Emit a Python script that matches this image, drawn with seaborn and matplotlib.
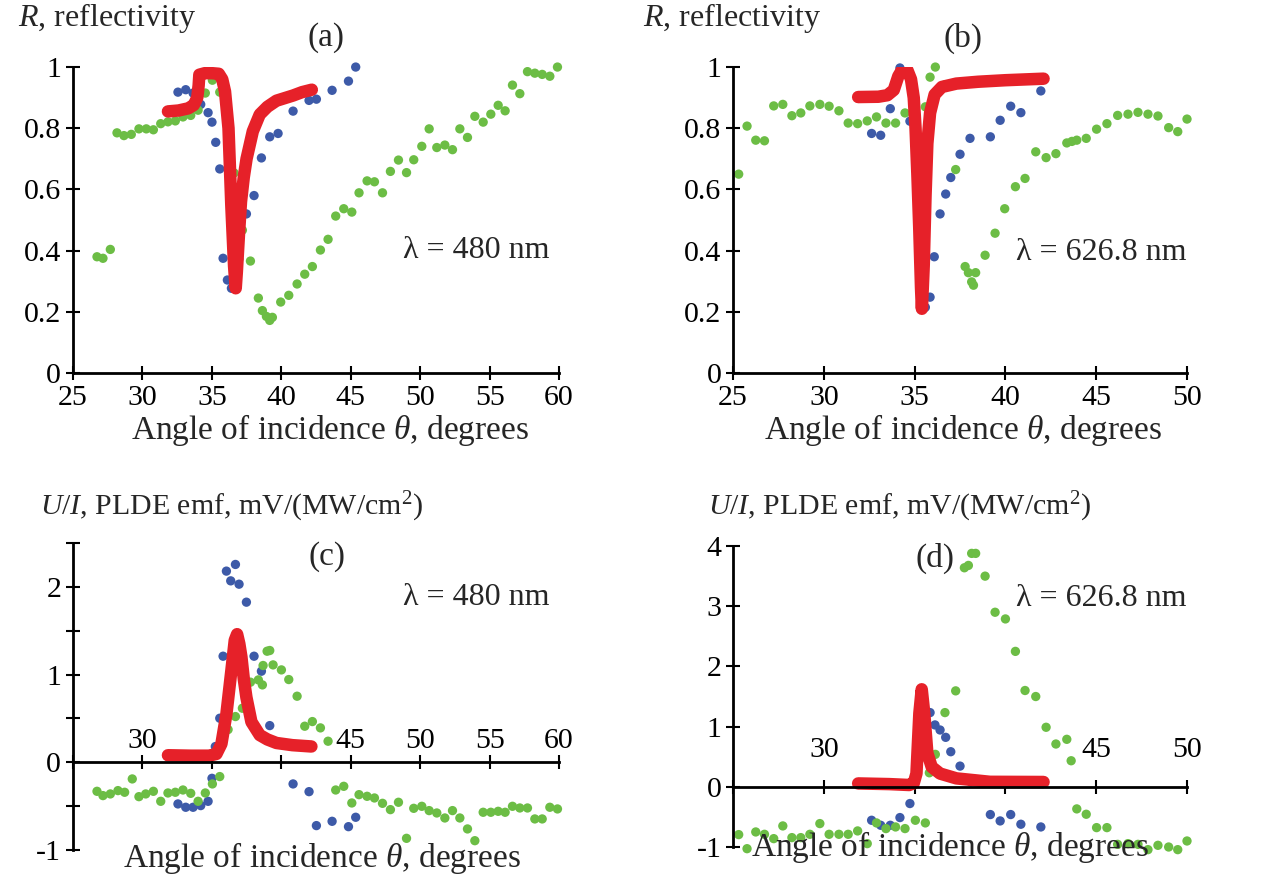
import matplotlib
matplotlib.use("Agg")
import matplotlib.pyplot as plt
import numpy as np
import seaborn as sns

# ---- panel (a): reflectivity, 480 nm
a_green_x = [26.73, 27.16, 27.69, 28.17, 28.67, 29.20, 29.75, 30.28, 30.79, 31.32, 31.84, 32.37,
             32.92, 33.48, 34.01, 34.53, 35.04, 35.57, 36.17, 36.60, 37.20, 37.78, 38.35, 38.64,
             38.93, 39.17, 39.36, 39.96, 40.54, 41.14, 41.69, 42.24, 42.82, 43.37, 43.92, 44.50,
             45.08, 45.60, 46.18, 46.71, 47.29, 47.86, 48.44, 49.02, 49.54, 50.12, 50.65, 51.20,
             51.78, 52.33, 52.86, 53.41, 53.94, 54.54, 55.09, 55.62, 56.12, 56.65, 57.18, 57.73,
             58.26, 58.79, 59.34, 59.89]
a_green_y = [0.380, 0.375, 0.404, 0.785, 0.776, 0.780, 0.798, 0.798, 0.795, 0.815, 0.821, 0.824,
             0.837, 0.842, 0.859, 0.915, 0.957, 0.918, 0.837, 0.654, 0.467, 0.366, 0.245, 0.204,
             0.185, 0.172, 0.182, 0.232, 0.254, 0.291, 0.323, 0.348, 0.402, 0.437, 0.513, 0.537,
             0.526, 0.589, 0.628, 0.625, 0.589, 0.659, 0.696, 0.655, 0.697, 0.741, 0.798, 0.737,
             0.745, 0.730, 0.798, 0.770, 0.839, 0.820, 0.846, 0.875, 0.857, 0.941, 0.913, 0.985,
             0.980, 0.976, 0.970, 1.000]
a_blue_x = [32.56, 33.12, 33.65, 34.20, 34.73, 35.01, 35.28, 35.57, 35.81, 36.12, 36.41, 36.70,
            36.94, 37.49, 38.04, 38.57, 39.17, 39.77, 40.85, 42.00, 42.53, 43.66, 44.84, 45.36]
a_blue_y = [0.918, 0.926, 0.915, 0.878, 0.851, 0.820, 0.754, 0.667, 0.375, 0.304, 0.277, 0.304,
            0.372, 0.520, 0.580, 0.703, 0.772, 0.783, 0.856, 0.891, 0.895, 0.924, 0.954, 1.000]
a_red_x = [31.84, 32.6, 33.3, 33.7, 33.95, 34.05, 34.1, 34.5, 35.0, 35.5, 35.75, 35.95, 36.2,
           36.4, 36.6, 36.72, 36.8, 36.95, 37.1, 37.3, 37.5, 37.95, 38.45, 39.0, 39.65, 40.85,
           41.5, 42.2]
a_red_y = [0.855, 0.858, 0.865, 0.876, 0.90, 0.94, 0.975, 0.98, 0.98, 0.978, 0.96, 0.92, 0.80,
           0.55, 0.35, 0.277, 0.33, 0.45, 0.56, 0.64, 0.70, 0.79, 0.845, 0.87, 0.89, 0.907,
           0.918, 0.926]

# ---- panel (b): reflectivity, 626.8 nm
b_green_x = [25.31, 25.77, 26.25, 26.73, 27.24, 27.74, 28.24, 28.73, 29.23, 29.78, 30.29, 30.83,
             31.34, 31.86, 32.39, 32.90, 33.42, 33.95, 34.47, 35.04, 35.59, 35.85, 36.14, 36.67,
             37.26, 37.78, 37.96, 38.14, 38.24, 38.36, 38.88, 39.43, 39.96, 40.55, 41.08, 41.67,
             42.24, 42.78, 43.38, 43.66, 43.93, 44.45, 45.02, 45.59, 46.18, 46.75, 47.30, 47.85,
             48.40, 48.99, 49.49, 50.00]
b_green_y = [0.650, 0.807, 0.761, 0.759, 0.873, 0.878, 0.841, 0.850, 0.873, 0.878, 0.872, 0.857,
             0.817, 0.815, 0.824, 0.837, 0.817, 0.817, 0.850, 0.867, 0.870, 0.967, 1.000, 0.942,
             0.665, 0.348, 0.328, 0.298, 0.287, 0.328, 0.385, 0.457, 0.537, 0.609, 0.636, 0.723,
             0.704, 0.717, 0.752, 0.757, 0.761, 0.767, 0.797, 0.815, 0.842, 0.846, 0.852, 0.846,
             0.840, 0.802, 0.789, 0.830]
b_blue_x = [32.63, 33.13, 33.66, 34.19, 34.74, 35.02, 35.29, 35.48, 35.59, 35.85, 36.08, 36.40,
            36.71, 36.99, 37.50, 38.05, 39.17, 39.71, 40.29, 40.85, 41.95]
b_blue_y = [0.783, 0.777, 0.864, 0.997, 0.823, 0.763, 0.313, 0.217, 0.215, 0.248, 0.380, 0.520,
            0.585, 0.639, 0.715, 0.767, 0.772, 0.826, 0.872, 0.851, 0.922]
b_red_x = [31.89, 33.0, 33.5, 33.85, 34.1, 34.3, 34.6, 34.8, 34.95, 35.05, 35.15, 35.25, 35.35,
           35.4, 35.5, 35.6, 35.7, 35.85, 36.1, 36.5, 37.3, 38.5, 40.0, 42.1]
b_red_y = [0.902, 0.903, 0.908, 0.925, 0.97, 0.99, 0.99, 0.96, 0.90, 0.80, 0.65, 0.48, 0.28,
           0.21, 0.35, 0.58, 0.75, 0.85, 0.91, 0.935, 0.946, 0.952, 0.957, 0.962]

# ---- panel (c): PLDE emf, 480 nm
c_green_x = [26.73, 27.16, 27.69, 28.24, 28.72, 29.27, 29.75, 30.24, 30.79, 31.32, 31.84, 32.37,
             32.92, 33.48, 34.01, 34.53, 35.04, 35.57, 36.17, 36.70, 37.20, 37.78, 38.35, 38.64,
             38.69, 38.98, 39.17, 39.41, 40.01, 40.54, 41.14, 41.69, 42.24, 42.82, 43.37, 43.92,
             44.50, 45.08, 45.60, 46.18, 46.71, 47.29, 47.86, 48.44, 49.02, 49.54, 50.12, 50.65,
             51.20, 51.78, 52.33, 52.86, 53.41, 53.94, 54.54, 55.09, 55.62, 56.12, 56.65, 57.18,
             57.73, 58.26, 58.79, 59.34, 59.89]
c_green_y = [-0.331, -0.380, -0.361, -0.323, -0.342, -0.190, -0.392, -0.361, -0.331, -0.445,
             -0.350, -0.342, -0.316, -0.354, -0.445, -0.350, -0.247, -0.163, 0.373, 0.521, 0.616,
             0.913, 0.939, 0.882, 1.103, 1.266, 1.274, 1.110, 1.053, 0.943, 0.753, 0.411, 0.464,
             0.392, 0.240, -0.316, -0.274, -0.464, -0.369, -0.388, -0.407, -0.468, -0.540, -0.456,
             -0.867, -0.525, -0.502, -0.551, -0.578, -0.635, -0.551, -0.635, -0.760, -0.894,
             -0.570, -0.570, -0.559, -0.570, -0.502, -0.521, -0.521, -0.646, -0.646, -0.513,
             -0.532]
c_blue_x = [32.56, 33.12, 33.65, 34.20, 34.73, 35.01, 35.25, 35.57, 35.81, 36.05, 36.36, 36.70,
            36.96, 37.49, 38.04, 38.57, 39.17, 39.77, 40.85, 42.00, 42.53, 43.66, 44.84, 45.36]
c_blue_y = [-0.475, -0.513, -0.513, -0.494, -0.445, -0.183, 0.179, 0.502, 1.209, 2.179, 2.068,
            2.255, 2.030, 1.825, 1.209, 1.038, 0.418, 0.217, -0.247, -0.335, -0.722, -0.673,
            -0.734, -0.627]
c_red_x = [31.84, 33.5, 34.8, 35.33, 35.69, 36.05, 36.41, 36.65, 36.82, 36.98, 37.13, 37.3,
           37.49, 37.85, 38.45, 39.0, 39.65, 40.8, 42.17]
c_red_y = [0.08, 0.075, 0.075, 0.095, 0.21, 0.55, 1.05, 1.39, 1.46, 1.35, 1.20, 0.95, 0.74,
           0.46, 0.31, 0.26, 0.22, 0.195, 0.18]

# ---- panel (d): PLDE emf, 626.8 nm
d_green_x = [25.31, 25.77, 26.25, 26.73, 27.24, 27.74, 28.24, 28.73, 29.23, 29.78, 30.29, 30.83,
             31.34, 31.86, 32.39, 32.90, 33.42, 33.95, 34.47, 35.04, 35.59, 35.81, 36.14, 36.67,
             37.26, 37.74, 37.96, 38.14, 38.36, 38.88, 39.43, 40.00, 40.55, 41.08, 41.67, 42.24,
             42.78, 43.38, 43.62, 43.93, 44.45, 45.02, 45.59, 46.18, 46.75, 47.30, 47.85, 48.40,
             48.99, 49.49, 50.00]
d_green_y = [-0.794, -1.028, -0.750, -0.789, -0.861, -0.650, -0.844, -0.844, -0.789, -0.611,
             -0.789, -0.789, -0.789, -0.733, -0.944, -0.600, -0.694, -0.667, -0.694, -0.556,
             -0.600, 0.233, 0.539, 1.233, 1.594, 3.639, 3.678, 3.878, 3.878, 3.500, 2.900, 2.789,
             2.250, 1.600, 1.500, 0.989, 0.711, 0.789, 0.433, -0.367, -0.456, -0.678, -0.678,
             -0.956, -0.944, -0.956, -1.044, -0.972, -1.000, -1.044, -0.900]
d_blue_x = [32.63, 33.13, 33.66, 34.19, 34.74, 35.04, 35.29, 35.59, 35.85, 36.12, 36.40, 36.71,
            36.99, 37.50, 38.09, 39.17, 39.71, 40.29, 40.85, 41.95]
d_blue_y = [-0.556, -0.639, -0.639, -0.511, -0.278, 0.194, 0.639, 1.139, 1.233, 1.028, 0.944,
            0.822, 0.583, 0.344, 0.083, -0.461, -0.567, -0.461, -0.622, -0.667]
d_red_x = [31.89, 33.6, 34.7, 34.95, 35.1, 35.26, 35.39, 35.53, 35.7, 35.94, 36.4, 37.3, 39.15,
           42.1]
d_red_y = [0.056, 0.045, 0.03, 0.06, 0.22, 1.22, 1.62, 1.22, 0.56, 0.33, 0.22, 0.14, 0.083,
           0.08]

GREEN = "#6cbd45"
BLUE = "#3d5aa8"
RED = "#e62129"

sns.set_style("ticks")
plt.rcParams["font.family"] = ["Liberation Serif", "DejaVu Serif"]
plt.rcParams["mathtext.fontset"] = "custom"
plt.rcParams["mathtext.rm"] = "Liberation Serif"
plt.rcParams["mathtext.it"] = "Liberation Serif:italic"
FS = 24       # axis titles
FS_TICK = 21.5
FS_TXT = 23   # lambda / quantity labels

fig = plt.figure(figsize=(12.78, 8.8), dpi=100)
ax_a = fig.add_axes([0.0571, 0.5761, 0.3803, 0.3477])
ax_b = fig.add_axes([0.5736, 0.5761, 0.3552, 0.3477])
ax_c = fig.add_axes([0.0571, 0.0341, 0.3803, 0.3489])
ax_d = fig.add_axes([0.5736, 0.0375, 0.3552, 0.3420])

panels = [
    (ax_a, a_red_x, a_red_y, a_blue_x, a_blue_y, a_green_x, a_green_y),
    (ax_b, b_red_x, b_red_y, b_blue_x, b_blue_y, b_green_x, b_green_y),
    (ax_c, c_red_x, c_red_y, c_blue_x, c_blue_y, c_green_x, c_green_y),
    (ax_d, d_red_x, d_red_y, d_blue_x, d_blue_y, d_green_x, d_green_y),
]

for ax, rx, ry, bx, by, gx, gy in panels:
    sns.lineplot(x=rx, y=ry, ax=ax, color=RED, lw=9, sort=False, estimator=None,
                 solid_capstyle="round", solid_joinstyle="round")
    sns.scatterplot(x=bx, y=by, ax=ax, color=BLUE, s=45, edgecolor="none", clip_on=False)
    sns.scatterplot(x=gx, y=gy, ax=ax, color=GREEN, s=45, edgecolor="none", clip_on=False)
    for side in ["top", "right"]:
        ax.spines[side].set_visible(False)
    for side in ["left", "bottom"]:
        ax.spines[side].set_linewidth(2)
        ax.spines[side].set_color("black")
    ax.tick_params(bottom=True, left=True, direction="inout", length=10, width=1.5,
                   labelsize=FS_TICK, colors="black")
    ax.set_facecolor("white")

# reflectivity panels
for ax, xmax in [(ax_a, 60), (ax_b, 50)]:
    ax.set_xlim(25, xmax)
    ax.set_ylim(0, 1)
    ax.set_xticks(np.arange(25, xmax + 1, 5))
    ax.set_yticks([0, 0.2, 0.4, 0.6, 0.8, 1])
    ax.set_yticklabels(["0", "0.2", "0.4", "0.6", "0.8", "1"])

# emf panels: x axis crosses at zero, labels above the axis
ax_c.set_xlim(25, 60)
ax_c.set_ylim(-1, 2.5)
ax_c.set_xticks(np.arange(25, 61, 5))
ax_c.set_xticklabels(["", "30", "", "", "45", "50", "55", "60"])
ax_c.set_yticks(np.arange(-1, 2.51, 0.5))
ax_c.set_yticklabels(["-1", "", "0", "", "1", "", "2", ""])
ax_c.spines["bottom"].set_position(("data", 0))
ax_c.tick_params(axis="x", pad=-30)

ax_d.set_xlim(25, 50)
ax_d.set_ylim(-1, 4)
ax_d.set_xticks(np.arange(25, 51, 5))
ax_d.set_xticklabels(["", "30", "", "", "45", "50"])
ax_d.set_yticks(np.arange(-1, 5, 1))
ax_d.set_yticklabels(["-1", "0", "1", "2", "3", "4"])
ax_d.spines["bottom"].set_position(("data", 0))
ax_d.tick_params(axis="x", pad=-41)

xlab = r"Angle of incidence $\theta$, degrees"
ax_a.text(0.529, -0.186, xlab, transform=ax_a.transAxes, ha="center", va="center", fontsize=FS)
ax_b.text(0.507, -0.186, xlab, transform=ax_b.transAxes, ha="center", va="center", fontsize=FS)
ax_c.text(0.512, -0.026, xlab, transform=ax_c.transAxes, ha="center", va="center", fontsize=FS)
ax_d.text(0.478, 0.0, xlab, transform=ax_d.transAxes, ha="center", va="center", fontsize=FS)

ax_a.text(0.52, 1.095, "(a)", transform=ax_a.transAxes, ha="center", va="center", fontsize=FS)
ax_b.text(0.507, 1.095, "(b)", transform=ax_b.transAxes, ha="center", va="center", fontsize=FS)
ax_c.text(0.523, 0.954, "(c)", transform=ax_c.transAxes, ha="center", va="center", fontsize=FS)
ax_d.text(0.445, 0.96, "(d)", transform=ax_d.transAxes, ha="center", va="center", fontsize=FS)

ax_a.text(0.829, 0.402, "λ = 480 nm", transform=ax_a.transAxes, ha="center", va="center", fontsize=FS_TXT)
ax_b.text(0.811, 0.395, "λ = 626.8 nm", transform=ax_b.transAxes, ha="center", va="center", fontsize=FS_TXT)
ax_c.text(0.829, 0.821, "λ = 480 nm", transform=ax_c.transAxes, ha="center", va="center", fontsize=FS_TXT)
ax_d.text(0.811, 0.827, "λ = 626.8 nm", transform=ax_d.transAxes, ha="center", va="center", fontsize=FS_TXT)

fig.text(0.014, 0.9795, r"$R$, reflectivity", ha="left", va="center", fontsize=FS_TXT)
fig.text(0.503, 0.9795, r"$R$, reflectivity", ha="left", va="center", fontsize=FS_TXT)
emf_lab = r"$U/I$, PLDE emf, mV/(MW/cm$^2$)"
fig.text(0.031, 0.424, emf_lab, ha="left", va="center", fontsize=21.5)
fig.text(0.554, 0.424, emf_lab, ha="left", va="center", fontsize=21.5)

fig.savefig("out.png", dpi=100, facecolor="white")
